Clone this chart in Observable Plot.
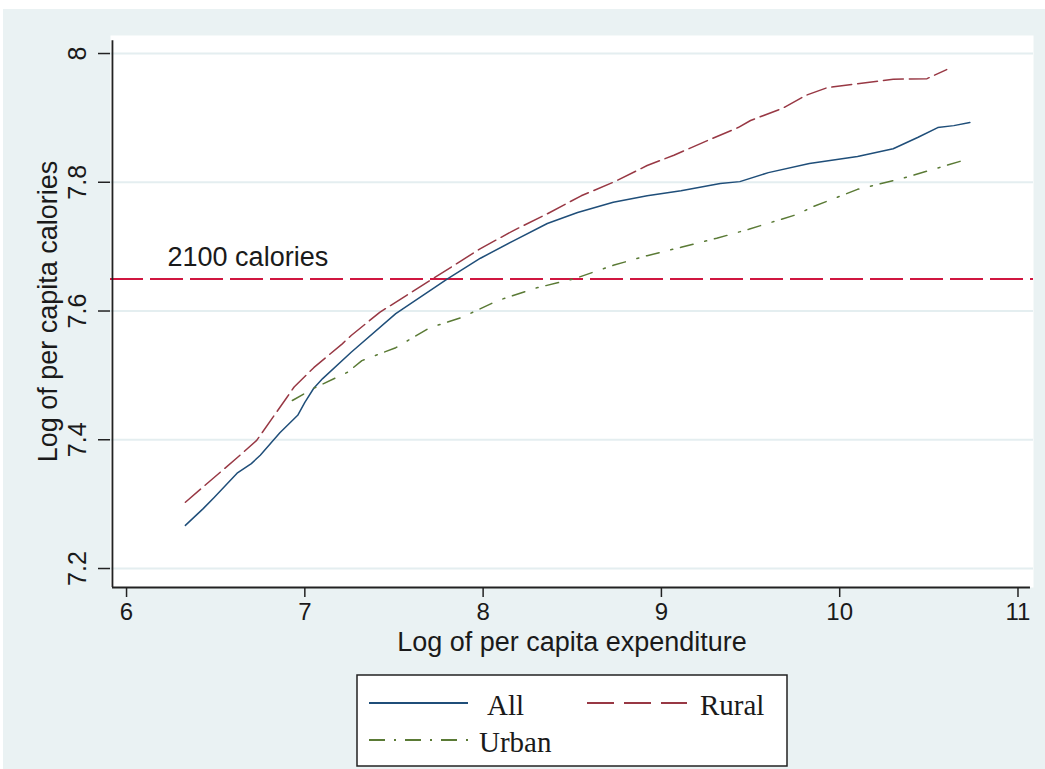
<!DOCTYPE html>
<html><head><meta charset="utf-8">
<script src="https://cdn.jsdelivr.net/npm/d3@7"></script>
<script src="https://cdn.jsdelivr.net/npm/@observablehq/plot@0.6"></script>
<style>
body{margin:0;background:#fff;width:1045px;height:769px;overflow:hidden;position:relative;font-family:"Liberation Sans",Arial,sans-serif}
#panel{position:absolute;left:3px;top:9px;width:1042px;height:760px;background:#eaf2f3}
#chart{position:absolute;left:0;top:0}
#legend{position:absolute;left:0;top:0}
</style></head><body>
<div id="panel"></div>
<div id="chart"></div>
<svg id="legend" width="1045" height="769"></svg>
<script>
// ---- data ----
const xTicks = [6, 7, 8, 9, 10, 11];
const xTickLabels = ["6", "7", "8", "9", "10", "11"];
const yTicks = [7.2, 7.4, 7.6, 7.8, 8];
const yTickLabels = ["7.2", "7.4", "7.6", "7.8", "8"];
const seriesNames = ["All", "Rural", "Urban"];
const allX = [6.33,6.43,6.49,6.62,6.70,6.75,6.86,6.96,7.00,7.05,7.10,7.26,7.51,7.80,7.985,8.17,8.36,8.53,8.73,8.92,9.11,9.33,9.44,9.60,9.83,10.10,10.30,10.44,10.55,10.64,10.73];
const allY = [7.267,7.293,7.310,7.348,7.363,7.376,7.411,7.438,7.458,7.480,7.495,7.536,7.596,7.650,7.682,7.709,7.736,7.753,7.769,7.779,7.787,7.798,7.801,7.815,7.829,7.840,7.852,7.870,7.885,7.888,7.893];
const ruralX = [6.33,6.46,6.62,6.73,6.90,6.94,7.05,7.21,7.26,7.42,7.70,7.985,8.17,8.36,8.55,8.73,8.92,9.07,9.26,9.43,9.50,9.68,9.81,9.93,10.10,10.30,10.49,10.60];
const ruralY = [7.303,7.334,7.372,7.399,7.466,7.482,7.512,7.549,7.562,7.598,7.647,7.697,7.725,7.751,7.779,7.800,7.826,7.842,7.865,7.885,7.896,7.915,7.935,7.947,7.953,7.960,7.961,7.975];
const urbanX = [6.93,7.05,7.18,7.24,7.32,7.51,7.70,7.88,8.08,8.30,8.51,8.73,8.92,9.11,9.31,9.49,9.76,9.85,10.10,10.35,10.56,10.73];
const urbanY = [7.461,7.480,7.497,7.505,7.523,7.543,7.574,7.590,7.616,7.636,7.650,7.671,7.686,7.699,7.713,7.727,7.750,7.762,7.789,7.806,7.823,7.837];
const thresholdCalories = 2100;
const thresholdLabel = "2100 calories";
const xTitle = "Log of per capita expenditure";
const yTitle = "Log of per capita calories";

const threshold = Math.log(thresholdCalories);
const xDomain = [5.91, 11.087];
const yDomain = [7.1705, 8.028];
const xAxisPos = 5.921;
const font = "'Liberation Sans', Arial, sans-serif";
const ink = "#1a1a1a";
const colors = {All: "#1f4e79", Rural: "#983844", Urban: "#5a7a35"};
const dashes = {All: null, Rural: "20,6", Urban: "13,12,2,8"};

const rows = (xs, ys, name) => xs.map((x, i) => ({x, y: ys[i], series: name}));
const data = {All: rows(allX, allY, "All"), Rural: rows(ruralX, ruralY, "Rural"), Urban: rows(urbanX, urbanY, "Urban")};

const chart = Plot.plot({
  width: 1045, height: 670,
  marginLeft: 110, marginRight: 12, marginTop: 35, marginBottom: 83,
  style: {background: "transparent", fontFamily: font, color: ink},
  x: {domain: xDomain},
  y: {domain: yDomain},
  marks: [
    Plot.frame({fill: "white", stroke: null}),
    Plot.ruleY(yTicks, {stroke: "#e4eef0", strokeWidth: 2}),
    Plot.ruleY([threshold], {stroke: "#d01640", strokeWidth: 2, strokeDasharray: "33,7"}),
    Plot.text([thresholdLabel], {x: 6.23, y: threshold, dy: -13, textAnchor: "start", lineAnchor: "bottom", fontSize: 27, fill: ink}),
    ...seriesNames.map(n => Plot.line(data[n], {x: "x", y: "y", stroke: colors[n], strokeWidth: 1.5, strokeDasharray: dashes[n]})),
    Plot.axisX(xTicks, {tickSize: 10, tickPadding: 5, fontSize: 24, stroke: "#222", strokeWidth: 1.5, fill: ink, label: null, tickFormat: (d, i) => xTickLabels[i]}),
    Plot.axisY(yTicks, {tickSize: 12, tickRotate: -90, tickPadding: 13, fontSize: 25, stroke: "#222", strokeWidth: 1.5, fill: ink, label: null, tickFormat: (d, i) => yTickLabels[i]}),
    Plot.ruleX([xAxisPos], {y1: yDomain[0], y2: 8.02, stroke: "#222", strokeWidth: 1.8}),
    Plot.ruleY([yDomain[0]], {x1: xAxisPos, x2: 11.07, stroke: "#222", strokeWidth: 1.8}),
    Plot.text([xTitle], {frameAnchor: "bottom", dy: 63, fontSize: 27, fill: ink}),
    Plot.text([yTitle], {frameAnchor: "left", textAnchor: "middle", dx: -62, rotate: -90, fontSize: 27, fill: ink})
  ]
});
document.getElementById("chart").append(chart);

// ---- legend ----
const lg = d3.select("#legend");
lg.append("rect").attr("x", 357).attr("y", 675).attr("width", 430).attr("height", 91)
  .attr("fill", "white").attr("stroke", "#222").attr("stroke-width", 1.5);
const legendItems = [
  {name: "All", x1: 369, x2: 468, y: 703, tx: 487, ty: 715, dash: null},
  {name: "Rural", x1: 587, x2: 687, y: 703, tx: 700, ty: 715, dash: "27,10"},
  {name: "Urban", x1: 369, x2: 468, y: 740, tx: 479, ty: 752, dash: "16,9,2,9"}
];
legendItems.forEach(it => {
  lg.append("line").attr("x1", it.x1).attr("x2", it.x2).attr("y1", it.y).attr("y2", it.y)
    .attr("stroke", colors[it.name]).attr("stroke-width", 1.8).attr("stroke-dasharray", it.dash);
  lg.append("text").attr("x", it.tx).attr("y", it.ty).text(it.name)
    .attr("font-family", "'Liberation Serif', 'Times New Roman', serif").attr("font-size", 29).attr("fill", ink);
});
</script>
</body></html>
